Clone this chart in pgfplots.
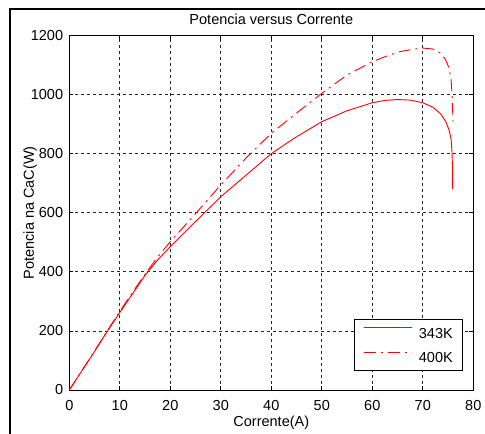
\documentclass[border=0pt]{standalone}
\usepackage{fontspec}
\setmainfont{Liberation Sans}
\usepackage{pgfplots}
\pgfplotsset{compat=1.18}

\begin{document}
\begin{tikzpicture}[font=\fontsize{14.5}{17}\selectfont]
\useasboundingbox (0,0) rectangle (485pt,434pt);
% figure frame (only left and top edges fall inside)
\draw[line width=2pt] (10pt,-20pt) -- (10pt,425pt) -- (520pt,425pt);
\begin{axis}[
  at={(69.3pt,44pt)}, anchor=south west,
  scale only axis, width=404pt, height=354.6pt,
  xmin=0, xmax=80, ymin=0, ymax=1200,
  xtick={0,10,...,80}, ytick={0,200,...,1200},
  grid=major, grid style={black!85, line width=0.7pt, dash pattern=on 3pt off 3pt},
  axis line style={black, line width=0.8pt},
  tick align=inside, major tick length=4pt,
  tick style={black, line width=0.7pt},
  scaled ticks=false,
  /pgf/number format/1000 sep={},
  /pgf/number format/assume math mode=true,
  xticklabel style={anchor=base, yshift=-20pt, inner sep=0pt},
  yticklabel style={anchor=east, xshift=-6pt, inner sep=0pt},
  title={Potencia versus Corrente},
  title style={at={(axis description cs:0.5,1)}, anchor=base, yshift=5pt, inner sep=0pt},
  xlabel={Corrente(A)},
  xlabel style={at={(axis description cs:0.5,-0.1043)}, anchor=base, inner sep=0pt},
  ylabel={Potencia na CaC(W)},
  ylabel style={at={(axis description cs:-0.097,0.5)}, anchor=center, inner sep=0pt},
  legend style={at={(axis description cs:1,0)}, anchor=south east,
    xshift=-10.6pt, yshift=19.3pt, draw=black, line width=0.8pt,
    inner xsep=9.5pt, inner ysep=8pt, row sep=13.5pt, column sep=6.6pt,
    nodes={inner sep=0pt, text height=10.5pt, text depth=0pt}},
  legend cell align=left,
  legend image code/.code={\draw[#1] (0pt,5pt) -- (48pt,5pt);},
]
\addplot[red, line width=0.9pt] coordinates {
 (0,0)(2.5,65)(5,130)(7.5,198)(10,262)(12.5,325)(15,388)(17.5,440)(20,485)
 (25,570)(30,654)(35,727)(40,800)(45,857)(50,908)(55,945)(60,972)(62.5,980)
 (65,983)(67.5,981)(70,972)(72,957)(73.5,935)(74.5,910)(75.2,880)(75.6,850)
 (75.8,800)(75.9,740)(75.9,680)};
\addlegendentry{343K}
\addplot[red, line width=0.9pt, dash pattern=on 12pt off 5pt on 2pt off 5pt] coordinates {
 (0,0)(2.5,66)(5,132)(7.5,200)(10,266)(12.5,330)(15,392)(17.5,450)(20,502)
 (25,597)(30,694)(35,785)(40,869)(45,937)(50,1004)(55,1066)(60,1111)(63,1131)
 (65.5,1145)(68,1153)(70,1157)(72,1154)(73.5,1140)(74.5,1118)(75.2,1090)
 (75.6,1050)(75.8,1000)(75.9,950)(76,900)};
\addlegendentry{400K}
\end{axis}
\end{tikzpicture}
\end{document}
